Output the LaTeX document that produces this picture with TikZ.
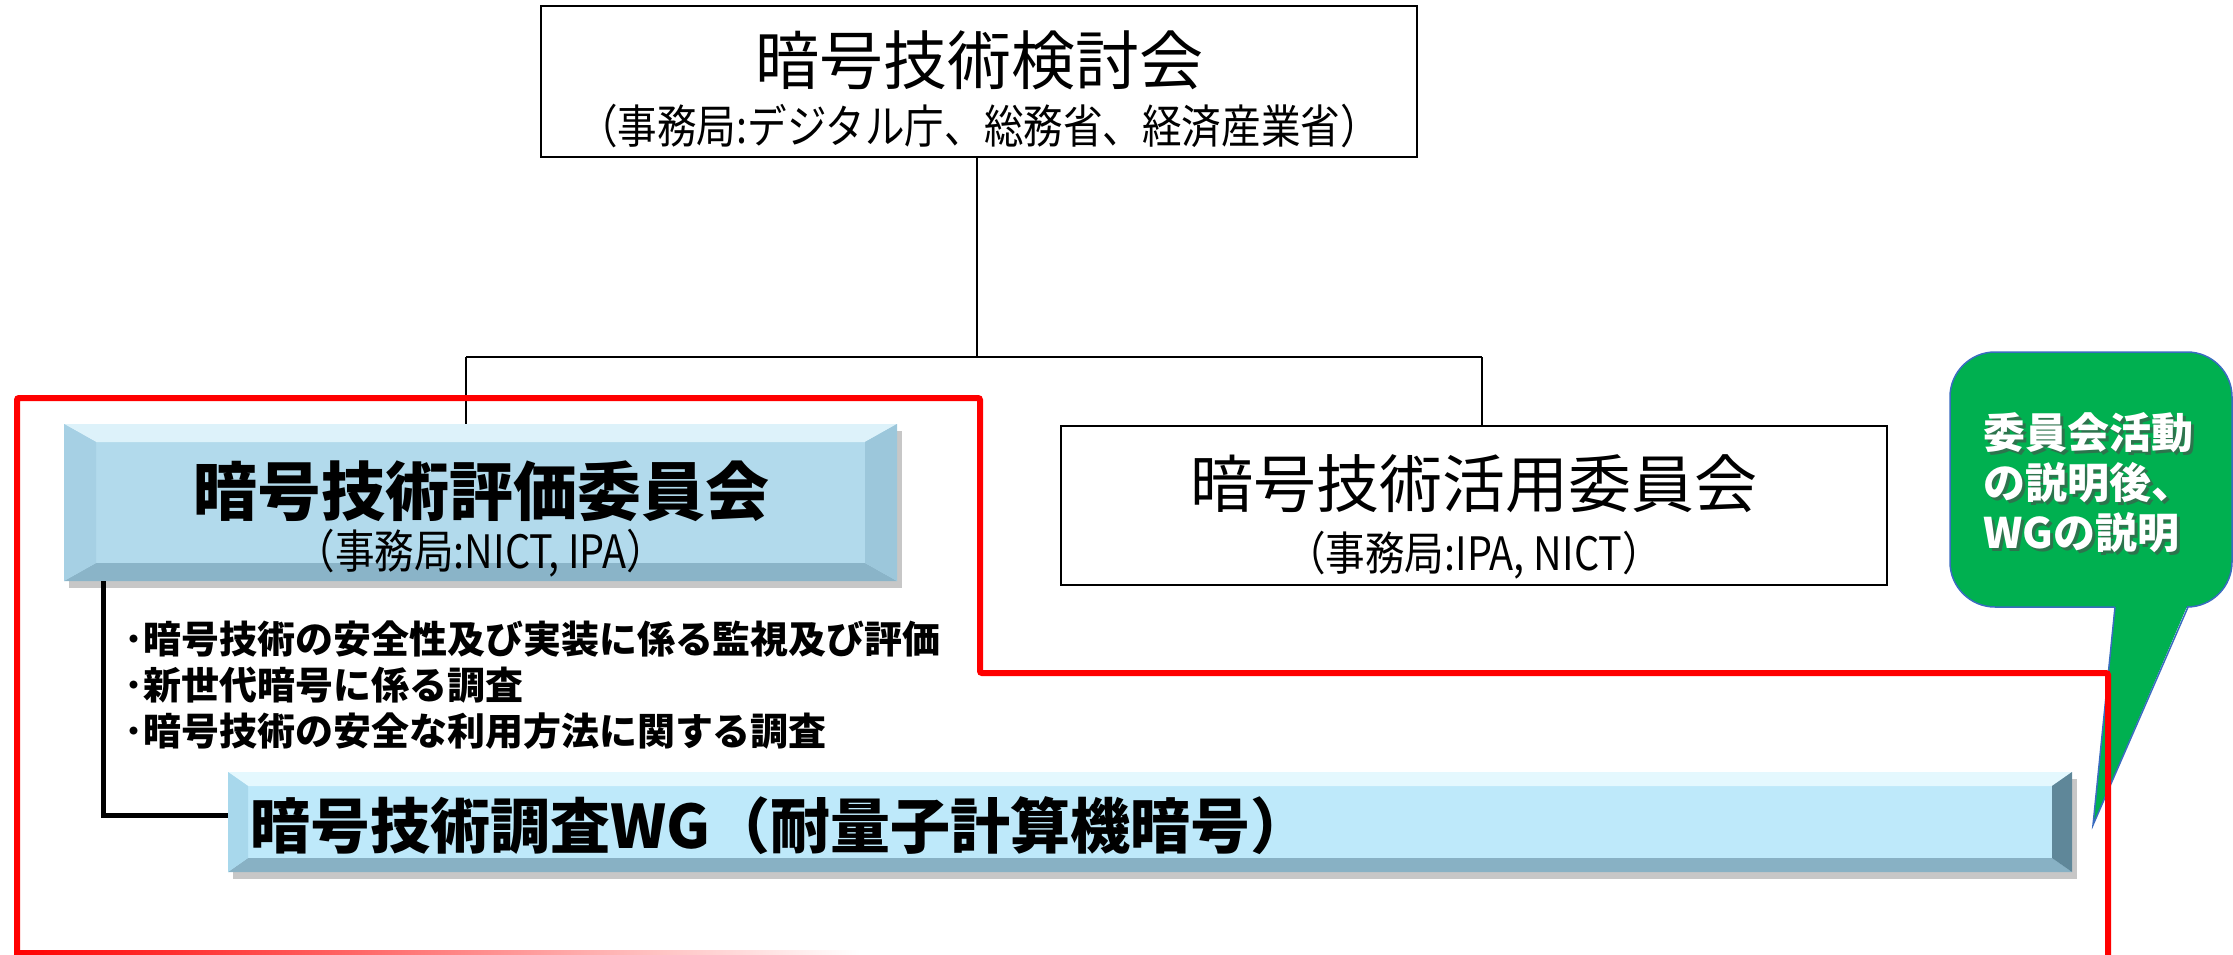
\documentclass[tikz,border=0pt]{standalone}
\usepackage{fontspec}
\setmainfont{Noto Sans CJK JP}
\newfontfamily\narrowjp{Noto Sans CJK JP}[FakeStretch=0.86]
\usetikzlibrary{calc}
\definecolor{evmain}{HTML}{B2DAEC}
\definecolor{evtop}{HTML}{DDF2FA}
\definecolor{evbot}{HTML}{8AB4C8}
\definecolor{evleft}{HTML}{A6D0E4}
\definecolor{evright}{HTML}{9CC7DB}
\definecolor{wgmain}{HTML}{BEE9FA}
\definecolor{wgtop}{HTML}{E4F8FE}
\definecolor{wgbot}{HTML}{88B1C4}
\definecolor{wgleft}{HTML}{A8D8EC}
\definecolor{wgright}{HTML}{5F8799}
\definecolor{callgreen}{HTML}{00B050}
\definecolor{callblue}{HTML}{3A6CC0}
\newcommand{\bevbox}[8]{%
  \fill[#4] (#1.north west) rectangle (#1.south east);
  \fill[#5] (#1.north west) -- (#1.north east) -- ($(#1.north east)+(-#2,#3)$) -- ($(#1.north west)+(#2,#3)$) -- cycle;
  \fill[#6] (#1.south west) -- (#1.south east) -- ($(#1.south east)+(-#2,-#3)$) -- ($(#1.south west)+(#2,-#3)$) -- cycle;
  \fill[#7] (#1.north west) -- ($(#1.north west)+(#2,#3)$) -- ($(#1.south west)+(#2,-#3)$) -- (#1.south west) -- cycle;
  \fill[#8] (#1.north east) -- ($(#1.north east)+(-#2,#3)$) -- ($(#1.south east)+(-#2,-#3)$) -- (#1.south east) -- cycle;
}
\begin{document}
\begin{tikzpicture}[x=1pt,y=-1pt,
  every node/.style={inner sep=0pt, outer sep=0pt},
  plainbox/.style={draw=black, line width=2pt, fill=white},
  conn/.style={draw=black, line width=2pt},
  thickconn/.style={draw=black, line width=5pt},
  redline/.style={draw=red, line width=6pt, rounded corners=2pt},
  shadowfill/.style={fill=black, opacity=0.22},
  bigtitle/.style={font=\fontsize{64}{70}\selectfont},
  boldtitle/.style={font=\bfseries\fontsize{64}{70}\selectfont},
  subtitle/.style={font=\narrowjp\fontsize{46}{50}\selectfont}
]
\useasboundingbox (0,0) rectangle (2233,955);

% top box
\node[plainbox, minimum width=876pt, minimum height=151pt] (top) at (979,81.5) {};
\node[bigtitle] (toptitle) at (979,60) {暗号技術検討会};
\node[subtitle] (topsub) at (979,126) {（事務局:デジタル庁、総務省、経済産業省）};

% junction coordinates
\coordinate (junc) at (977,357);
\coordinate (jl) at (466,357);
\coordinate (jr) at (1482,357);

% evaluation box geometry
\node[minimum width=833pt, minimum height=157pt] (eval) at (480.5,502.5) {};
% utilization box
\node[plainbox, minimum width=826pt, minimum height=159pt] (util) at (1474,505.5) {};

\draw[conn] (top.south -| junc) -- (junc);
\draw[conn] (jl) -- (jr);
\draw[conn] (jl) -- (jl |- eval.north);
\draw[conn] (jr) -- (jr |- util.north);

% eval bevel box
\fill[shadowfill] ($(eval.north west)+(5,7)$) rectangle ($(eval.south east)+(5,7)$);
\bevbox{eval}{32}{18}{evmain}{evtop}{evbot}{evleft}{evright}
\node[boldtitle] (evaltitle) at (481,491) {暗号技術評価委員会};
\node[subtitle] (evalsub) at (481,553) {（事務局:NICT, IPA）};

\node[bigtitle, font=\fontsize{63}{70}\selectfont] (utiltitle) at (1474,484) {暗号技術活用委員会};
\node[subtitle] (utilsub) at (1474,555) {（事務局:IPA, NICT）};

% bullets
\node[anchor=west, align=left, font=\bfseries\fontsize{38}{46}\selectfont] (bul) at (124,685)
  {･暗号技術の安全性及び実装に係る監視及び評価\\･新世代暗号に係る調査\\･暗号技術の安全な利用方法に関する調査};

% WG box
\node[minimum width=1844pt, minimum height=100pt] (wg) at (1150,822) {};
\coordinate (lcorner) at ($(eval.south west)+(39,0)$);
\draw[thickconn] (lcorner) |- ($(wg.west)+(0,-7)$);
\fill[shadowfill] ($(wg.north west)+(5,7)$) rectangle ($(wg.south east)+(5,7)$);
\bevbox{wg}{20}{14}{wgmain}{wgtop}{wgbot}{wgleft}{wgright}
\node[anchor=west, font=\bfseries\fontsize{60}{66}\selectfont] (wgtext) at (250,826) {暗号技術調査WG（耐量子計算機暗号）};

% callout
\node[draw=callblue, line width=1.5pt, fill=callgreen, rounded corners=45pt, minimum width=282pt, minimum height=255pt] (call) at (2091,479.5) {};
\coordinate (ptip) at (2093,825);
\coordinate (pbl) at (2115,607);
\coordinate (pbr) at (2188,607);
\fill[callgreen] ($(pbl)+(0,-3)$) -- (ptip) -- ($(pbr)+(0,-3)$) -- cycle;
\draw[callblue, line width=1.5pt] (pbl) -- (ptip) -- (pbr);
\node[anchor=west, align=left, text=black!70, opacity=0.6, font=\bfseries\fontsize{42}{50}\selectfont] (callshadow) at (1986,486) {委員会活動\\の説明後、\\WGの説明};
\node[anchor=west, align=left, text=white, font=\bfseries\fontsize{42}{50}\selectfont] (calltext) at (1983,483) {委員会活動\\の説明後、\\WGの説明};

% red outline
\coordinate (r1) at (17,957);
\coordinate (r2) at (17,398);
\coordinate (r3) at (980,398);
\coordinate (r4) at (980,673);
\coordinate (r5) at (2108,673);
\coordinate (r6) at (2108,957);
\draw[redline] (r1) -- (r2) -- (r3) -- (r4) -- (r5) -- (r6);
\shade[left color=red, right color=white] (15,950) rectangle (860,955);
\end{tikzpicture}
\end{document}
